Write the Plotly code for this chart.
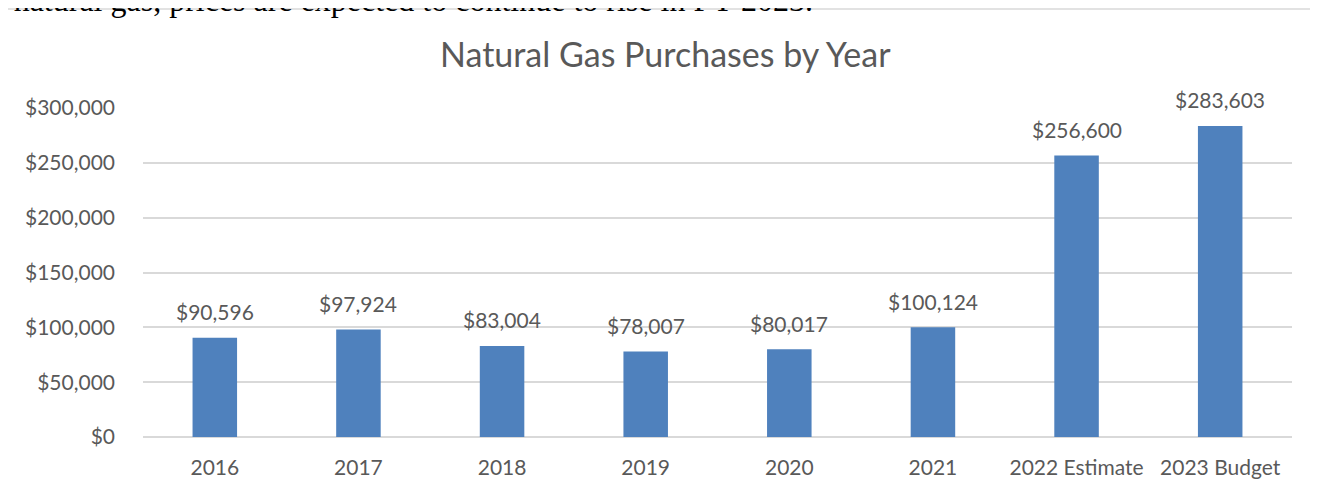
import plotly.graph_objects as go

# Data
categories = ["2016", "2017", "2018", "2019", "2020", "2021", "2022 Estimate", "2023 Budget"]
purchases = [90596, 97924, 83004, 78007, 80017, 100124, 256600, 283603]
y_ticks = [0, 50000, 100000, 150000, 200000, 250000, 300000]

title_text = "Natural Gas Purchases by Year"
page_text = "f natural gas, prices are expected to continue to rise in FY 2023."

# The page body has an 8px margin, so work in page pixels and shift
OFF = 8
W, H = 1318 - OFF, 494 - OFF
plot_left, plot_right, plot_top, plot_bottom = 143, 1292, 108, 437  # page pixels
L = plot_left - OFF
T = plot_top - OFF
R = W - (plot_right - OFF)
B = H - (plot_bottom - OFF)
plot_w = W - L - R
plot_h = H - T - B


def px_x(x):
    # page pixel -> paper fraction
    return (x - OFF - L) / plot_w


def px_y(y):
    return (H - B - (y - OFF)) / plot_h


gray = "#595959"
grid = "#d9d9d9"
font_family = "Lato, 'Open Sans', sans-serif"

fig = go.Figure(
    go.Bar(
        x=categories,
        y=purchases,
        marker=dict(color="#4f81bd", line=dict(width=0)),
        hoverinfo="skip",
    )
)

# data labels above each bar (x given as category index)
labels = [
    dict(
        x=i, y=v, xref="x", yref="y",
        text=f"${v:,.0f}",
        showarrow=False,
        xanchor="center", yanchor="middle",
        yshift=26,
        font=dict(family=font_family, size=21, color=gray),
    )
    for i, v in enumerate(purchases)
]

fig.update_layout(
    width=W,
    height=H,
    margin=dict(l=L, r=R, t=T, b=B, autoexpand=False),
    paper_bgcolor="white",
    plot_bgcolor="white",
    bargap=0.69,
    showlegend=False,
    font=dict(family=font_family, size=21, color=gray),
    xaxis=dict(
        type="category",
        range=[-0.5, len(categories) - 0.5],
        showgrid=False,
        showline=False,
        ticks="",
        ticklabelstandoff=16,
        tickfont=dict(size=21, color=gray),
        fixedrange=True,
    ),
    yaxis=dict(
        range=[0, 300000],
        tickvals=y_ticks,
        ticktext=[f"${v:,.0f}" for v in y_ticks],
        showgrid=True,
        gridcolor=grid,
        gridwidth=1.5,
        zeroline=True,
        zerolinecolor=grid,
        zerolinewidth=1.5,
        showline=False,
        ticks="",
        ticklabelstandoff=27,
        tickfont=dict(size=21, color=gray),
        fixedrange=True,
    ),
    annotations=labels + [
        dict(
            text=title_text,
            xref="paper", yref="paper",
            x=px_x(665), y=px_y(54),
            xanchor="center", yanchor="middle",
            showarrow=False,
            font=dict(family=font_family, size=34, color=gray),
        ),
        dict(
            text=page_text,
            xref="paper", yref="paper",
            x=px_x(815), y=px_y(0),
            xanchor="right", yanchor="middle",
            showarrow=False,
            font=dict(family="'Liberation Serif', 'Times New Roman', serif", size=32, color="black"),
        ),
    ],
    shapes=[
        dict(type="line", xref="paper", yref="paper",
             x0=px_x(7), x1=px_x(7), y0=px_y(9), y1=px_y(520),
             line=dict(color=grid, width=1.5)),
        dict(type="line", xref="paper", yref="paper",
             x0=px_x(7), x1=px_x(1340), y0=px_y(9), y1=px_y(9),
             line=dict(color=grid, width=1.5)),
    ],
)

fig.write_html("out.html")
